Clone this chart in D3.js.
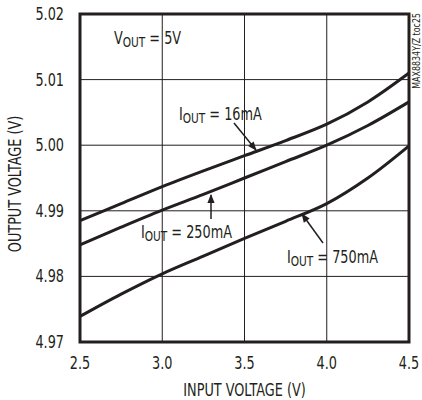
<!DOCTYPE html>
<html>
<head>
<meta charset="utf-8">
<script src="https://cdn.jsdelivr.net/npm/d3@7"></script>
<style>
  body { margin: 0; background: #fff; }
  text { font-family: 'Liberation Sans Narrow', 'DejaVu Sans Condensed', sans-serif; fill: #231f20; }
</style>
</head>
<body>
<div id="chart"></div>
<script>
// data
const vin = [2.5, 2.75, 3.0, 3.25, 3.5, 3.75, 4.0, 4.25, 4.5];
const vout16 = [4.9885, 4.9911, 4.9937, 4.9961, 4.9984, 5.0007, 5.0032, 5.0066, 5.0110];
const vout250 = [4.9848, 4.9875, 4.9901, 4.9925, 4.9950, 4.9975, 5.0000, 5.0030, 5.0066];
const vout750 = [4.9739, 4.9773, 4.9804, 4.9831, 4.9858, 4.9884, 4.9911, 4.9950, 4.9999];
const xTicks = [2.5, 3.0, 3.5, 4.0, 4.5];
const yTicks = [4.97, 4.98, 4.99, 5.00, 5.01, 5.02];

const W = 422, H = 400;
const margin = {top: 14, right: 13, bottom: 58, left: 80};
const SX = 0.84; // squeeze text to look like a condensed face

const svg = d3.select('#chart').append('svg')
  .attr('width', W).attr('height', H);

const x = d3.scaleLinear().domain([2.5, 4.5]).range([margin.left, W - margin.right]);
const y = d3.scaleLinear().domain([4.97, 5.02]).range([H - margin.bottom, margin.top]);

// place a squeezed text, returns the text node
function txt(px, py, size, anchor, rot) {
  return svg.append('text')
    .attr('transform', `translate(${px},${py})` + (rot ? ` rotate(${rot})` : '') + ` scale(${SX},1)`)
    .attr('font-size', size)
    .attr('text-anchor', anchor || 'start');
}

// grid
const g = svg.append('g');
g.selectAll('.vg').data(xTicks.slice(1, -1)).join('line')
  .attr('x1', d => x(d)).attr('x2', d => x(d))
  .attr('y1', y(4.97)).attr('y2', y(5.02))
  .attr('stroke', '#231f20').attr('stroke-width', 1);
g.selectAll('.hg').data(yTicks.slice(1, -1)).join('line')
  .attr('y1', d => y(d)).attr('y2', d => y(d))
  .attr('x1', x(2.5)).attr('x2', x(4.5))
  .attr('stroke', '#231f20').attr('stroke-width', 1);

// tick labels
xTicks.forEach(d => txt(x(d), H - margin.bottom + 27, 17, 'middle').text(d.toFixed(1)));
yTicks.forEach(d => txt(margin.left - 16, y(d) + 6, 17, 'end').text(d.toFixed(2)));

// axis titles
txt((x(2.5) + x(4.5)) / 2, H - 4, 17, 'middle').text('INPUT VOLTAGE (V)');
txt(21, (y(4.97) + y(5.02)) / 2 + 6, 17, 'middle', -90).text('OUTPUT VOLTAGE (V)');

// curves
const line = d3.line()
  .x((d, i) => x(vin[i]))
  .y(d => y(d))
  .curve(d3.curveCatmullRom);
svg.selectAll('.curve').data([vout16, vout250, vout750]).join('path')
  .attr('d', line)
  .attr('fill', 'none').attr('stroke', '#231f20').attr('stroke-width', 3);

// frame
svg.append('rect')
  .attr('x', x(2.5)).attr('y', y(5.02))
  .attr('width', x(4.5) - x(2.5)).attr('height', y(4.97) - y(5.02))
  .attr('fill', 'none').attr('stroke', '#231f20').attr('stroke-width', 3);

// labels with subscripts
function subLabel(px, py, main, sub, rest) {
  const t = txt(px, py, 17);
  t.append('tspan').text(main);
  t.append('tspan').attr('font-size', 14).attr('dy', 3).text(sub);
  t.append('tspan').attr('dy', -3).text(rest);
}
subLabel(114, 44, 'V', 'OUT', ' = 5V');
subLabel(179, 120, 'I', 'OUT', ' = 16mA');
subLabel(141, 238, 'I', 'OUT', ' = 250mA');
subLabel(287, 263, 'I', 'OUT', ' = 750mA');

// arrows
const defs = svg.append('defs');
defs.append('marker').attr('id', 'ah')
  .attr('viewBox', '0 0 10 10').attr('refX', 9).attr('refY', 5)
  .attr('markerWidth', 10).attr('markerHeight', 9)
  .attr('markerUnits', 'userSpaceOnUse').attr('orient', 'auto')
  .append('path').attr('d', 'M0,1 L10,5 L0,9 Z').attr('fill', '#231f20');
const arrows = [[234, 123, 256, 150], [211, 219, 211, 195], [323, 243, 302, 214]];
svg.selectAll('.arr').data(arrows).join('line')
  .attr('x1', d => d[0]).attr('y1', d => d[1])
  .attr('x2', d => d[2]).attr('y2', d => d[3])
  .attr('stroke', '#231f20').attr('stroke-width', 1.5)
  .attr('marker-end', 'url(#ah)');

// side note
txt(420, 13, 10.5, 'end', -90).text('MAX8834Y/Z toc25');
</script>
</body>
</html>
